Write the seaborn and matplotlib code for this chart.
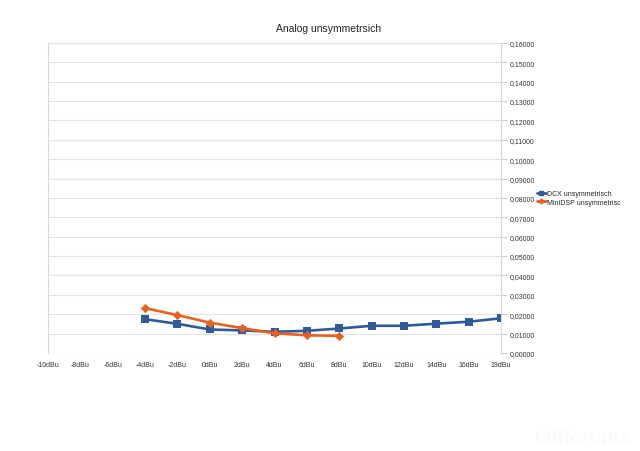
import pandas as pd
import matplotlib
matplotlib.use('Agg')
import matplotlib.pyplot as plt
import seaborn as sns
from matplotlib.ticker import FuncFormatter, MultipleLocator

sns.set_style('white')
plt.rcParams['font.family'] = ['Liberation Sans', 'DejaVu Sans']

categories = ['-10dBu', '-8dBu', '-6dBu', '-4dBu', '-2dBu', '0dBu', '2dBu',
              '4dBu', '6dBu', '8dBu', '10dBu', '12dBu', '14dBu', '16dBu', '19dBu']
dcx_x = ['-4dBu', '-2dBu', '0dBu', '2dBu', '4dBu', '6dBu', '8dBu',
         '10dBu', '12dBu', '14dBu', '16dBu', '19dBu']
dcx_y = [0.0174, 0.0150, 0.0121, 0.0116, 0.0109, 0.0114, 0.0126,
         0.0140, 0.0140, 0.0151, 0.0161, 0.0179]
mini_x = ['-4dBu', '-2dBu', '0dBu', '2dBu', '4dBu', '6dBu', '8dBu']
mini_y = [0.0231, 0.0195, 0.0156, 0.0128, 0.0101, 0.0091, 0.0088]
labels = ['DCX unsymmetrisch', 'MiniDSP unsymmetrisc']
colors = ['#2f5b9b', '#e8621f']

df = pd.concat([
    pd.DataFrame({'x': dcx_x, 'y': dcx_y, 'serie': labels[0]}),
    pd.DataFrame({'x': mini_x, 'y': mini_y, 'serie': labels[1]}),
])

fig = plt.figure(figsize=(6.4, 4.52), dpi=100)
ax = fig.add_axes([0.075, 0.217, 0.708, 0.686])

sns.pointplot(data=df, x='x', y='y', hue='serie', order=categories,
              hue_order=labels, palette=colors, markers=['s', 'D'],
              markersize=3.3, linewidth=1.9, errorbar=None, ax=ax, legend=False)
# blue squares are a bit larger than the orange diamonds
for line in ax.lines:
    if line.get_marker() == 's':
        line.set_markersize(4.6)

ax.set_xlim(0, len(categories) - 1)
ax.set_ylim(0, 0.16)
ax.yaxis.set_major_locator(MultipleLocator(0.01))
ax.yaxis.set_major_formatter(FuncFormatter(lambda v, p: f'{v:.5f}'.replace('.', ',')))
ax.yaxis.tick_right()
ax.grid(axis='y', color='#e2e2e2', linewidth=0.8)
ax.set_axisbelow(True)
ax.tick_params(axis='y', labelsize=5, length=4, color='#cccccc', pad=2, colors='#333333')
ax.tick_params(axis='x', labelsize=5, length=0, pad=6, colors='#333333')
ax.set_xlabel('')
ax.set_ylabel('')
for s in ['top', 'bottom']:
    ax.spines[s].set_visible(False)
for s in ['left', 'right']:
    ax.spines[s].set_color('#d8d8d8')
    ax.spines[s].set_linewidth(0.8)

fig.text(0.514, 0.929, 'Analog unsymmetrsich', ha='center', fontsize=7.5, color='#222222')

handles = [plt.Line2D([], [], color=colors[0], marker='s', markersize=3, linewidth=2),
           plt.Line2D([], [], color=colors[1], marker='D', markersize=2.5, linewidth=2)]
fig.legend(handles, labels, loc='center left', bbox_to_anchor=(0.835, 0.56),
           frameon=False, fontsize=5, handlelength=1.2, handletextpad=0.2,
           labelspacing=0.2, borderaxespad=0)

fig.text(0.985, 0.02, 'hififorums', ha='right', fontsize=14, fontweight='bold',
         color='#fafafa')

fig.savefig('out.png', dpi=100)
